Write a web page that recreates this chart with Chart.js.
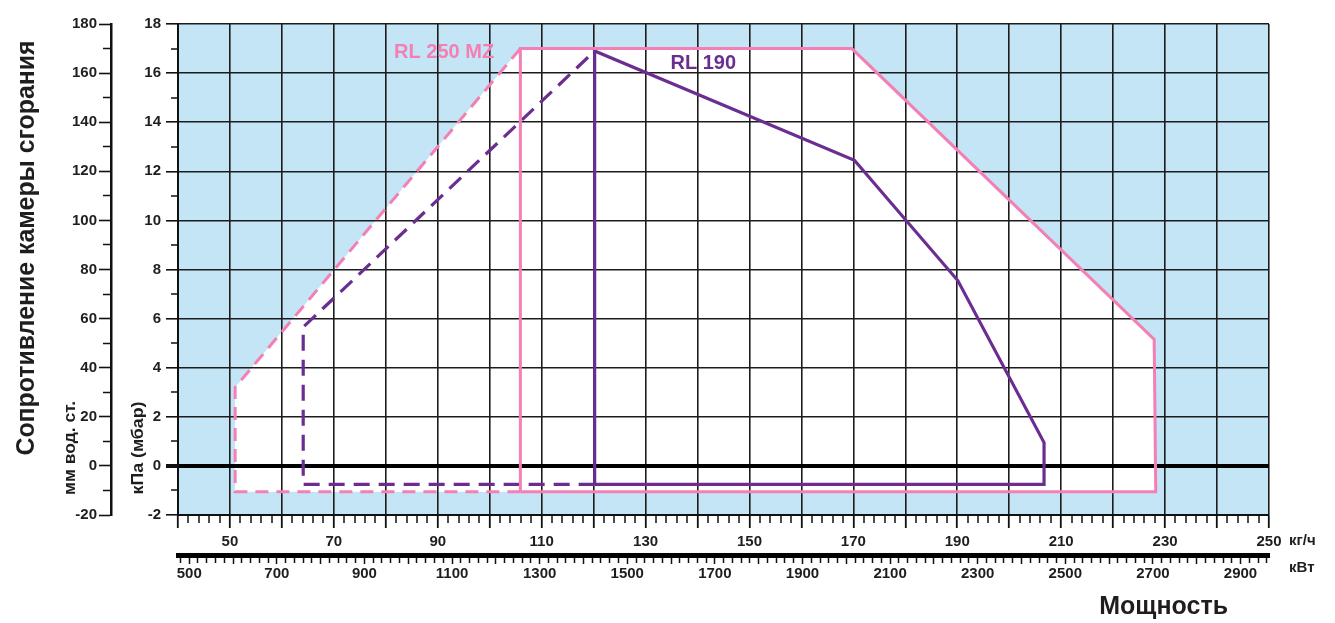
<!DOCTYPE html>
<html>
<head>
<meta charset="utf-8">
<script src="https://cdn.jsdelivr.net/npm/chart.js@4.4.1/dist/chart.umd.min.js"></script>
<style>
  html, body { margin: 0; padding: 0; background: #ffffff; }
  canvas { display: block; }
</style>
</head>
<body>
<canvas id="chart" width="1335" height="623"></canvas>
<script>
// ---------- DATA (kg/h, kPa) ----------
// RL 250 MZ – solid outline (2nd stage range)
const rl250SolidKgh = [105.9, 105.9, 169.7, 227.9, 228.2, 105.9];
const rl250SolidKpa = [-1.05, 17.0, 17.0, 5.15, -1.05, -1.05];
// RL 250 MZ – dashed outline (1st stage range)
const rl250DashKgh = [105.9, 51.0, 51.0, 105.9];
const rl250DashKpa = [-1.05, -1.05, 3.2, 17.0];
// RL 190 – solid outline
const rl190SolidKgh = [120.2, 120.2, 170.2, 190.1, 206.7, 206.7, 120.2];
const rl190SolidKpa = [-0.75, 16.9, 12.45, 7.55, 0.95, -0.75, -0.75];
// RL 190 – dashed outline
const rl190DashKgh = [120.2, 64.1, 64.1, 120.2];
const rl190DashKpa = [-0.75, -0.75, 5.65, 16.9];

// series names and where their labels sit (kg/h, kPa)
const seriesNames = ['RL 250 MZ', 'RL 190'];
const seriesLabelKgh = [81.6, 134.8];
const seriesLabelKpa = [16.85, 16.4];

// axis ranges and tick labels
const kghRange = [40, 250];
const kwPerKgh = 11.86;
const kpaRange = [-2, 18];
const mmRange = [-20, 180];
const kghTickLabels = [50, 70, 90, 110, 130, 150, 170, 190, 210, 230, 250];
const kwTickLabels = [500, 700, 900, 1100, 1300, 1500, 1700, 1900, 2100, 2300, 2500, 2700, 2900];
const kpaTickLabels = [-2, 0, 2, 4, 6, 8, 10, 12, 14, 16, 18];
const mmTickLabels = [-20, 0, 20, 40, 60, 80, 100, 120, 140, 160, 180];

const yTitle = 'Сопротивление камеры сгорания';
const mmTitle = 'мм вод. ст.';
const kpaTitle = 'кПа (мбар)';
const kghUnit = 'кг/ч';
const kwUnit = 'кВт';
const xTitle = 'Мощность';

// ---------- STYLE ----------
const FONT = "'Liberation Sans', Arial, sans-serif";
const BLUE = '#c3e5f6';
const PINK = '#f47fb4';
const PURPLE = '#6b2e90';
const GRID = '#1c1c1c';
const INK = '#1e1e1e';

const pts = (xs, ys) => xs.map((v, i) => ({ x: v, y: ys[i] }));

// draws rotated text squeezed/stretched to a given length
function vText(ctx, text, bx, cy, font, len) {
  ctx.save();
  ctx.font = font;
  const w = ctx.measureText(text).width;
  ctx.translate(bx, cy);
  ctx.rotate(-Math.PI / 2);
  ctx.scale(len / w, 1);
  ctx.textAlign = 'center';
  ctx.textBaseline = 'alphabetic';
  ctx.fillText(text, 0, 0);
  ctx.restore();
}

const backdrop = {
  id: 'backdrop',
  beforeDraw(chart) {
    const { ctx, chartArea: a, scales: { x, y } } = chart;
    ctx.save();
    ctx.fillStyle = BLUE;
    ctx.fillRect(a.left, a.top, a.right - a.left, a.bottom - a.top);
    // working envelope of RL 250 MZ is white
    const ex = rl250DashKgh.concat(rl250SolidKgh.slice(2, 5));
    const ey = rl250DashKpa.concat(rl250SolidKpa.slice(2, 5));
    ctx.beginPath();
    ex.forEach((v, i) => {
      const px = x.getPixelForValue(v), py = y.getPixelForValue(ey[i]);
      if (i) ctx.lineTo(px, py); else ctx.moveTo(px, py);
    });
    ctx.closePath();
    ctx.fillStyle = '#ffffff';
    ctx.fill();
    ctx.restore();
  },
  afterDraw(chart) {
    const { ctx, chartArea: a, scales: { x, y, x2 } } = chart;
    ctx.save();
    ctx.fillStyle = INK;
    // big left title
    vText(ctx, yTitle, 34, 248, `bold 25px ${FONT}`, 415);
    // unit titles of the two vertical axes
    vText(ctx, mmTitle, 75, 448, `bold 17px ${FONT}`, 94);
    vText(ctx, kpaTitle, 143, 448, `bold 17px ${FONT}`, 93);
    // units of the horizontal axes
    ctx.font = `bold 15px ${FONT}`;
    ctx.textAlign = 'left';
    ctx.textBaseline = 'middle';
    ctx.fillText(kghUnit, a.right + 20, x.top + 26);
    ctx.fillText(kwUnit, a.right + 20, x2.top + 13);
    // bottom title
    ctx.font = `bold 25px ${FONT}`;
    ctx.textAlign = 'right';
    ctx.fillText(xTitle, 1228, 607);
    // series labels
    ctx.font = `bold 20px ${FONT}`;
    ctx.textAlign = 'left';
    [PINK, PURPLE].forEach((c, i) => {
      ctx.fillStyle = c;
      ctx.fillText(seriesNames[i], x.getPixelForValue(seriesLabelKgh[i]), y.getPixelForValue(seriesLabelKpa[i]));
    });
    ctx.restore();
  }
};

const tickFont = { family: FONT, size: 15, weight: 'bold' };
const isMul = (v, m) => Math.abs(v / m - Math.round(v / m)) < 1e-6;

new Chart(document.getElementById('chart'), {
  type: 'line',
  data: {
    datasets: [
      { label: seriesNames[0], data: pts(rl250SolidKgh, rl250SolidKpa), borderColor: PINK, borderWidth: 3 },
      { label: seriesNames[0] + ' (1)', data: pts(rl250DashKgh, rl250DashKpa), borderColor: PINK, borderWidth: 3, borderDash: [13, 8] },
      { label: seriesNames[1], data: pts(rl190SolidKgh, rl190SolidKpa), borderColor: PURPLE, borderWidth: 3.2 },
      { label: seriesNames[1] + ' (1)', data: pts(rl190DashKgh, rl190DashKpa), borderColor: PURPLE, borderWidth: 3.2, borderDash: [16, 9] }
    ]
  },
  options: {
    responsive: false,
    animation: false,
    events: [],
    layout: { padding: { left: 40, right: 66, top: 24, bottom: 32 } },
    elements: {
      point: { radius: 0 },
      line: { tension: 0, fill: false, borderJoinStyle: 'miter', borderCapStyle: 'butt' }
    },
    plugins: { legend: { display: false }, tooltip: { enabled: false } },
    scales: {
      x: {
        type: 'linear', position: 'bottom', min: kghRange[0], max: kghRange[1], weight: 0,
        afterFit: s => { s.height = 40; },
        border: { display: true, color: '#111', width: 2 },
        grid: {
          drawOnChartArea: true, drawTicks: true, tickLength: 13,
          color: c => (c.tick && isMul(c.tick.value, 10)) ? GRID : 'rgba(0,0,0,0)',
          lineWidth: c => (c.tick && isMul(c.tick.value, 10)) ? 1.6 : 0,
          tickColor: '#111',
          tickWidth: c => (c.tick && isMul(c.tick.value, 10)) ? 1.8 : 1.5,
          tickBorderDash: c => (c.tick && isMul(c.tick.value, 10)) ? [] : [7, 100]
        },
        ticks: {
          stepSize: 2, autoSkip: false, includeBounds: false, maxRotation: 0, padding: 5,
          font: tickFont, color: INK,
          callback: v => kghTickLabels.includes(v) ? String(v) : ''
        }
      },
      x2: {
        type: 'linear', position: 'bottom', min: kghRange[0] * kwPerKgh, max: kghRange[1] * kwPerKgh, weight: 1,
        afterFit: s => { s.height = 36; },
        border: { display: true, color: '#000', width: 5 },
        grid: {
          drawOnChartArea: false, drawTicks: true, tickLength: 9,
          tickColor: '#111', tickWidth: 1.5,
          tickBorderDash: c => (c.tick && isMul(c.tick.value, 100)) ? [] : [5, 100]
        },
        ticks: {
          stepSize: 20, autoSkip: false, includeBounds: false, maxRotation: 0, padding: 1,
          font: tickFont, color: INK,
          callback: v => kwTickLabels.includes(v) ? String(v) : ''
        }
      },
      y: {
        type: 'linear', position: 'left', min: kpaRange[0], max: kpaRange[1], weight: 0,
        afterFit: s => { s.width = 67; },
        border: { display: true, color: '#111', width: 2 },
        grid: {
          drawOnChartArea: true, drawTicks: true, tickLength: 12,
          color: c => (c.tick && isMul(c.tick.value, 2)) ? (c.tick.value === 0 ? '#000' : GRID) : 'rgba(0,0,0,0)',
          lineWidth: c => (c.tick && isMul(c.tick.value, 2)) ? (c.tick.value === 0 ? 4 : 1.6) : 0,
          tickColor: '#111',
          tickWidth: c => (c.tick && c.tick.value === 0) ? 4 : 1.6,
          tickBorderDash: c => (c.tick && isMul(c.tick.value, 2)) ? [] : [0, 5, 7, 100]
        },
        ticks: {
          stepSize: 1, autoSkip: false, includeBounds: false, padding: 5,
          font: tickFont, color: INK,
          callback: v => kpaTickLabels.includes(v) ? String(v) : ''
        }
      },
      y2: {
        type: 'linear', position: 'left', min: mmRange[0], max: mmRange[1], weight: 1,
        afterFit: s => { s.width = 71; },
        border: { display: true, color: '#111', width: 2.5 },
        grid: {
          drawOnChartArea: false, drawTicks: true, tickLength: 12,
          tickColor: '#111', tickWidth: 1.6,
          tickBorderDash: c => (c.tick && isMul(c.tick.value, 20)) ? [] : [0, 4, 8, 100]
        },
        ticks: {
          stepSize: 10, autoSkip: false, includeBounds: false, padding: 2,
          font: tickFont, color: INK,
          callback: v => mmTickLabels.includes(v) ? String(v) : ''
        }
      }
    }
  },
  plugins: [backdrop]
});
</script>
</body>
</html>
